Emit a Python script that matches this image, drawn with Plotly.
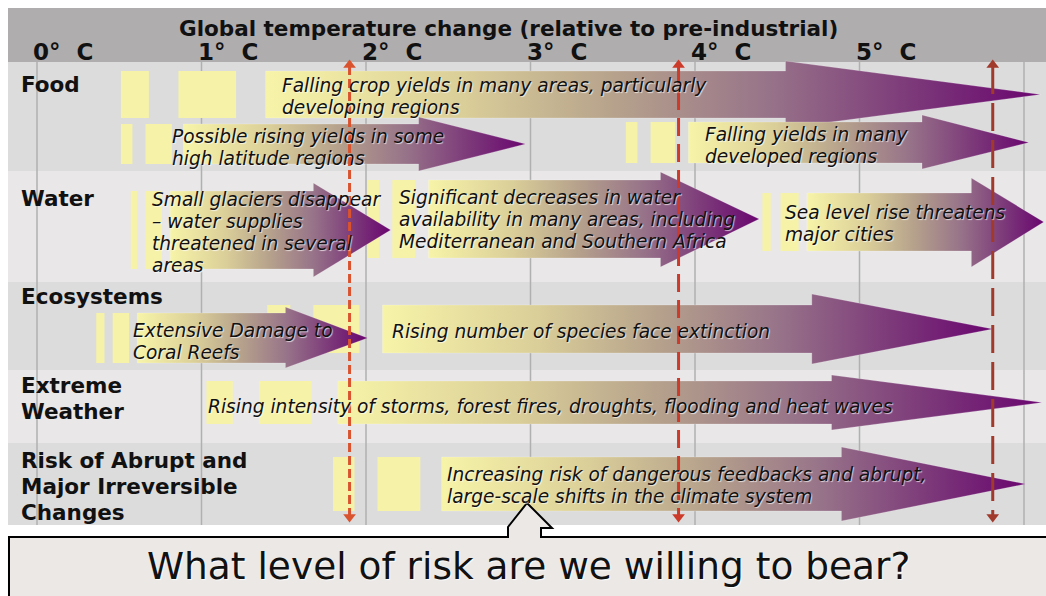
import plotly.graph_objects as go

W, H = 1046, 596

# temperature scale, deg C above pre-industrial
temp_ticks = [0, 1, 2, 3, 4, 5]
tick_labels = ["0°\u00a0 C", "1°\u00a0 C", "2°\u00a0 C", "3°\u00a0 C", "4°\u00a0 C", "5°\u00a0 C"]
grid_temps = [0, 1, 2, 3, 4, 5, 6]

rows = ["Food", "Water", "Ecosystems", "Extreme<br>Weather",
        "Risk of Abrupt and<br>Major Irreversible<br>Changes"]

impact_text = [
    "Falling crop yields in many areas, particularly<br>developing regions",
    "Possible rising yields in some<br>high latitude regions",
    "Falling yields in many<br>developed regions",
    "Small glaciers disappear<br>– water supplies<br>threatened in several<br>areas",
    "Significant decreases in water<br>availability in many areas, including<br>Mediterranean and Southern Africa",
    "Sea level rise threatens<br>major cities",
    "Extensive Damage to<br>Coral Reefs",
    "Rising number of species face extinction",
    "Rising intensity of storms, forest fires, droughts, flooding and heat waves",
    "Increasing risk of dangerous feedbacks and abrupt,<br>large-scale shifts in the climate system",
]
impact_start = [1.39, 0.89, 3.96, 0.81, 2.38, 4.68, 0.61, 2.10, 1.83, 2.46]
impact_neck = [4.55, 2.32, 5.38, 1.68, 3.79, 5.68, 1.51, 4.71, 4.83, 4.89]
impact_end = [6.10, 2.97, 6.03, 2.15, 4.39, 6.12, 2.01, 5.81, 6.11, 6.01]
lead_in = [
    [(0.51, 0.68), (0.86, 1.21)],
    [(0.51, 0.58), (0.66, 0.82)],
    [(3.58, 3.65), (3.73, 3.88)],
    [(0.57, 0.61), (0.66, 0.76)],
    [(2.01, 2.08), (2.16, 2.30)],
    [(4.41, 4.46), (4.52, 4.63)],
    [(0.36, 0.41), (0.46, 0.56)],
    [(1.40, 1.54), (1.68, 1.96)],
    [(1.03, 1.19), (1.35, 1.67)],
    [(1.80, 1.93), (2.07, 2.33)],
]
threshold_temps = [1.9, 3.9, 5.81]

# ---- layout (px; y axis runs top->bottom in px) ----
X0, PX_PER_DEG = 37, 164.5
row_bands = [(62, 171), (171, 282), (282, 370), (370, 443), (443, 525)]
row_colors = ["#dcdcdc", "#e9e7e8", "#dcdcdc", "#e9e7e8", "#dcdcdc"]
row_label_y = [84, 198, 296, 385, 460]
# body top, body bottom, head top, head bottom
arrow_y = [(71, 118, 61, 128), (124, 164, 117, 171), (122, 163, 115, 169),
           (191, 269, 183, 277), (180, 258, 172, 267), (193, 251, 178, 267),
           (313, 363, 307, 368), (305, 353, 294, 364), (381, 424, 375, 430),
           (457, 511, 447, 521)]
text_x = [1.477, 0.809, 4.049, 0.687, 2.188, 4.535, 0.571, 2.146, 1.027, 2.480]
text_y = [85, 136, 134, 199, 197, 212, 330, 331, 406, 474]  # first line
thr_colors = ["#d9532f", "#cc3b2a", "#a23a2c"]
thr_dash = ["9px,4px", "18px,8px", "28px,9px"]

grad = [[0, "#f7f4a8"], [0.25, "#dbcf99"], [0.45, "#b6a28c"], [0.65, "#977389"],
        [0.85, "#7a3478"], [1, "#6a0670"]]
yellow = "#f6f3a8"
FONT = "DejaVu Sans"


def px(x):
    return x / W


fig = go.Figure()

# gridlines
gx, gy = [], []
for g in grid_temps:
    gx += [g, g, None]
    gy += [62, 525, None]
fig.add_trace(go.Scatter(x=gx, y=gy, mode="lines", line=dict(color="#b0b0b0", width=1.5),
                         hoverinfo="skip"))

# lead-in boxes
for boxes, (bt, bb, ht, hb) in zip(lead_in, arrow_y):
    for a, b in boxes:
        fig.add_trace(go.Scatter(x=[a, b, b, a, a], y=[bt, bt, bb, bb, bt], mode="lines",
                                 fill="toself", fillcolor=yellow, line=dict(width=0),
                                 hoverinfo="skip"))

# gradient arrows
for s, n, e, (bt, bb, ht, hb) in zip(impact_start, impact_neck, impact_end, arrow_y):
    c = (bt + bb) / 2
    fig.add_trace(go.Scatter(
        x=[s, n, n, e, n, n, s, s], y=[bt, bt, ht, c, hb, bb, bb, bt],
        mode="lines", fill="toself",
        fillgradient=dict(type="horizontal", colorscale=grad),
        line=dict(width=0.6, color="rgba(255,255,255,0.35)"), hoverinfo="skip"))

# threshold dashed arrows
for t, col, d in zip(threshold_temps, thr_colors, thr_dash):
    fig.add_trace(go.Scatter(x=[t, t], y=[66, 515], mode="lines",
                             line=dict(color=col, width=3, dash=d), hoverinfo="skip"))
    fig.add_trace(go.Scatter(x=[t, t], y=[65, 517], mode="markers",
                             marker=dict(symbol=["triangle-up", "triangle-down"], size=11,
                                         color=col), hoverinfo="skip"))

shapes = [dict(type="rect", xref="paper", yref="y", x0=px(8), x1=1, y0=8, y1=62,
               fillcolor="#afadae", line=dict(width=0), layer="below")]
for (y0, y1), col in zip(row_bands, row_colors):
    shapes.append(dict(type="rect", xref="paper", yref="y", x0=px(8), x1=1, y0=y0, y1=y1,
                       fillcolor=col, line=dict(width=0), layer="below"))

# speech-bubble box
pts = [(9, 605), (9, 537), (508, 537), (508, 527), (527, 503), (552, 528), (541, 528),
       (541, 537), (1070, 537), (1070, 605)]
path = "M " + " L ".join(f"{px(x):.5f},{y}" for x, y in pts) + " Z"
shapes.append(dict(type="path", xref="paper", yref="y", path=path, fillcolor="#ebe8e6",
                   line=dict(color="black", width=2), layer="above"))

ann = [dict(x=px(508), y=28, xref="paper", yref="y", showarrow=False,
            text="Global temperature change (relative to pre-industrial)",
            font=dict(family=FONT, size=21.5, weight="bold", color="#111"))]
for t, lab in zip(temp_ticks, tick_labels):
    ann.append(dict(x=t, y=52, xref="x", yref="y", xanchor="left", xshift=-6, showarrow=False,
                    text=lab, font=dict(family=FONT, size=23, weight="bold", color="#111")))
for lab, y in zip(rows, row_label_y):
    for i, line in enumerate(lab.split("<br>")):
        ann.append(dict(x=px(19), y=y + 26 * i, xref="paper", yref="y", xanchor="left",
                        showarrow=False, text=line,
                        font=dict(family=FONT, size=21.5, weight="bold", color="#111")))
for txt, x, y in zip(impact_text, text_x, text_y):
    for i, line in enumerate(txt.split("<br>")):
        ann.append(dict(x=x, y=y + 22.3 * i, xref="x", yref="y", xanchor="left",
                        showarrow=False, text=line,
                        font=dict(family=FONT, size=18.6, style="italic", color="#111",
                                  shadow="1px 1px 1px rgba(255,255,255,0.7)")))
ann.append(dict(x=px(528), y=566, xref="paper", yref="y", showarrow=False,
                text="What level of risk are we willing to bear?",
                font=dict(family=FONT, size=37.5, color="#111",
                          shadow="1px 1px 1px rgba(255,255,255,0.9)")))

fig.update_layout(
    width=W, height=H, autosize=False,
    margin=dict(l=0, r=0, t=0, b=0, pad=0),
    paper_bgcolor="white", plot_bgcolor="white",
    showlegend=False,
    xaxis=dict(range=[-X0 / PX_PER_DEG, (W - X0) / PX_PER_DEG], visible=False,
               fixedrange=True),
    yaxis=dict(range=[H, 0], visible=False, fixedrange=True),
    shapes=shapes, annotations=ann,
)

# page body margin off, so the figure fills the window exactly
fig.write_html("out.html", config={"displayModeBar": False},
               post_script="document.body.style.margin='0';")
